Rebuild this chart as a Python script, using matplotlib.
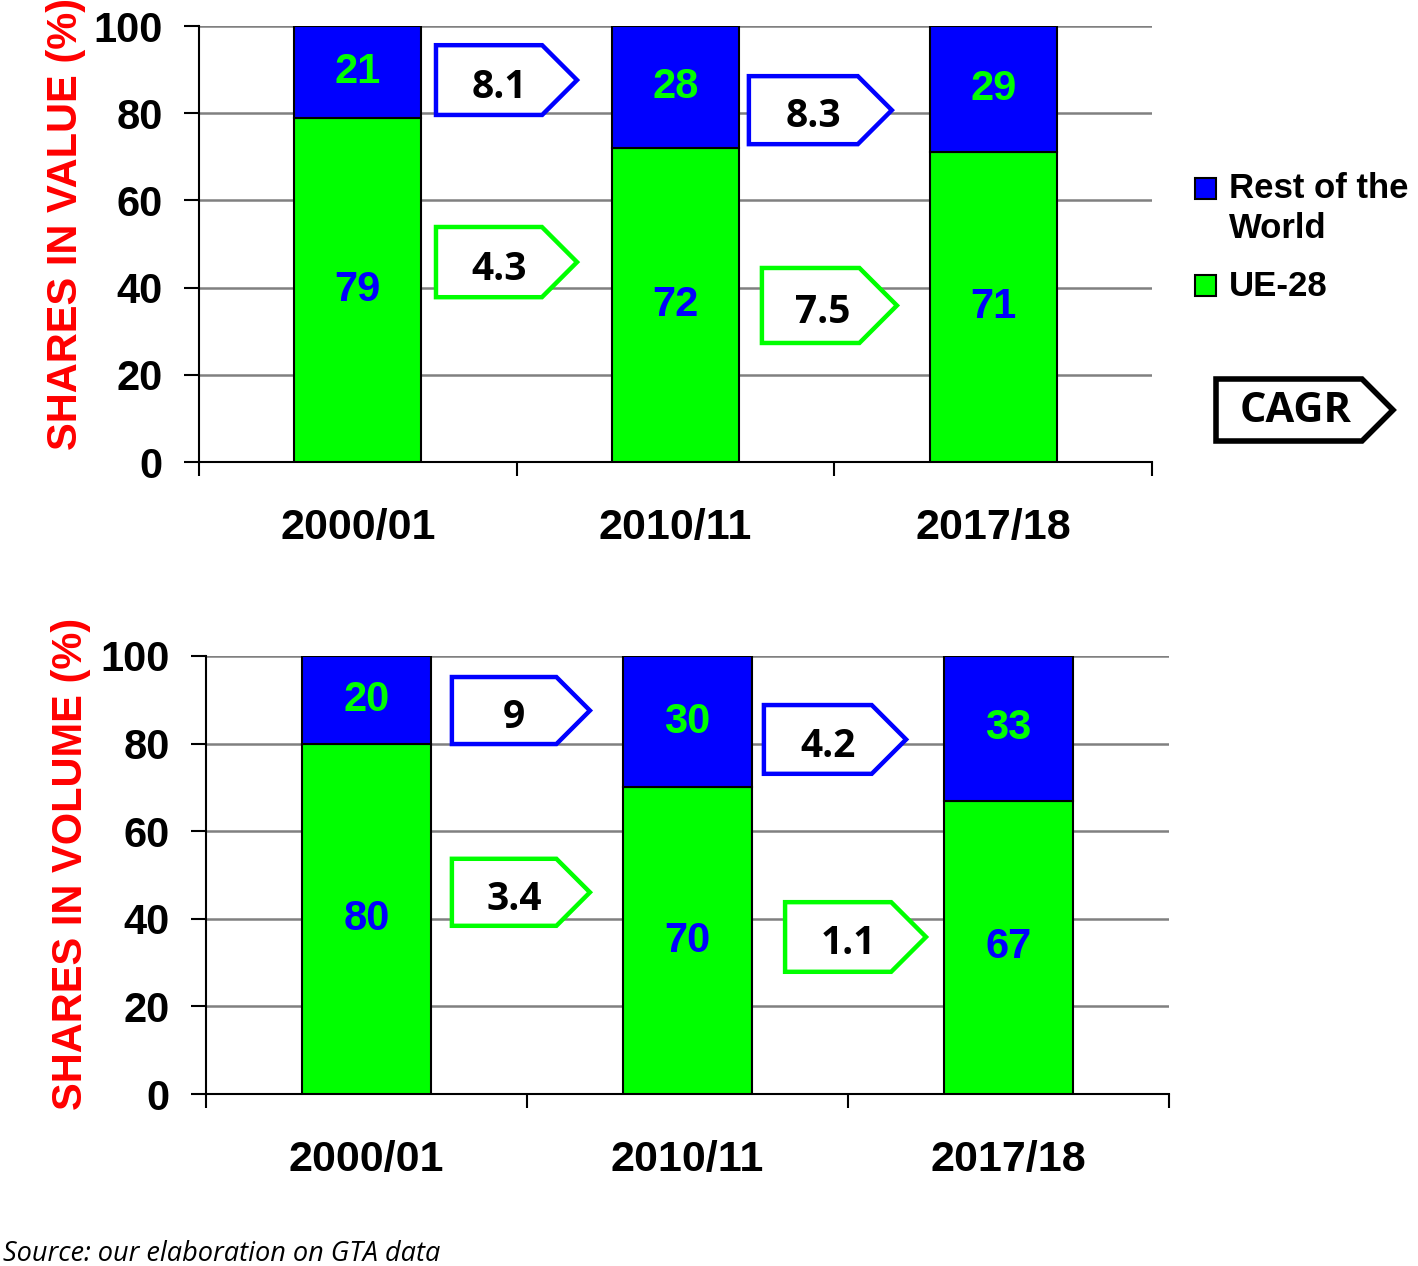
import numpy as np
import matplotlib
matplotlib.use("Agg")
import matplotlib.pyplot as plt
from matplotlib.patches import Polygon, Rectangle

# data
periods = ["2000/01", "2010/11", "2017/18"]
value_ue = [79, 72, 71]
value_row = [21, 28, 29]
volume_ue = [80, 70, 67]
volume_row = [20, 30, 33]
cagr_value_row = ["8.1", "8.3"]
cagr_value_ue = ["4.3", "7.5"]
cagr_volume_row = ["9", "4.2"]
cagr_volume_ue = ["3.4", "1.1"]

# tag boxes placement (x left, x right, y bottom, y top) in data units
tags_value = [(0.246, 0.690, 79.6, 95.6), (1.231, 1.681, 72.9, 88.5),
              (0.246, 0.690, 37.8, 53.9), (1.272, 1.697, 27.3, 44.5)]
tags_volume = [(0.266, 0.696, 79.9, 95.2), (1.238, 1.681, 73.1, 88.8),
               (0.266, 0.696, 38.4, 53.7), (1.304, 1.743, 27.9, 43.8)]

BLUE = "#0000ff"
GREEN = "#00ff00"
W, H = 1418, 1266

plt.rcParams["font.family"] = ["Liberation Sans", "DejaVu Sans"]
plt.rcParams["font.weight"] = "bold"

fig = plt.figure(figsize=(W / 100, H / 100), dpi=100)


def px(x, y):
    return x / W, 1 - y / H


def tag(ax, xl, xr, yb, yt, color, text, fs=28, lw=3.2, transform=None, drop=0.1):
    # pentagon pointing right, 45 degree tip
    if transform is None:
        bb = ax.get_position()
        ppx = bb.width * W / 3.0
        ppy = bb.height * H / 100.0
        tip = (yt - yb) / 2 * ppy / ppx
        trans = ax.transData
        target = ax
    else:
        tip = (yt - yb) / 2 * H / W
        trans = transform
        target = fig
    pts = [(xl, yb), (xr - tip, yb), (xr, (yb + yt) / 2), (xr - tip, yt), (xl, yt)]
    poly = Polygon(pts, closed=True, facecolor="white", edgecolor=color,
                   linewidth=lw, transform=trans, zorder=5, joinstyle="miter")
    if target is ax:
        ax.add_patch(poly)
    else:
        fig.patches.append(poly)
    target.text(xl + 0.45 * (xr - xl), (yb + yt) / 2 - drop * (yt - yb), text,
                transform=trans, ha="center", va="center", fontsize=fs,
                family="Open Sans", fontweight="bold", color="black", zorder=6)


def panel(rect, ue, row, ylabel, label_xy, tags, tag_texts):
    ax = fig.add_axes(rect)
    x = np.arange(len(periods))
    ax.bar(x, ue, width=0.4, color=GREEN, edgecolor="black", linewidth=1.5, zorder=3)
    ax.bar(x, row, bottom=ue, width=0.4, color=BLUE, edgecolor="black", linewidth=1.5, zorder=3)
    for i in range(len(x)):
        ax.text(x[i], ue[i] / 2, str(ue[i]), ha="center", va="center",
                fontsize=30, fontweight="bold", color=BLUE, zorder=4)
        ax.text(x[i], ue[i] + row[i] / 2, str(row[i]), ha="center", va="center",
                fontsize=30, fontweight="bold", color=GREEN, zorder=4)
    ax.set_xlim(-0.5, 2.5)
    ax.set_ylim(0, 100)
    ax.set_yticks(range(0, 101, 20))
    ax.yaxis.grid(True, color="#808080", linewidth=1.8)
    ax.set_axisbelow(True)
    ax.set_xticks([-0.5, 0.5, 1.5, 2.5])
    ax.set_xticklabels([])
    ax.set_xticks(x, minor=True)
    ax.set_xticklabels(periods, minor=True)
    ax.tick_params(axis="x", which="major", length=10, width=1.5, direction="out")
    ax.tick_params(axis="x", which="minor", length=0, pad=33, labelsize=31)
    ax.tick_params(axis="y", length=11, width=1.5, pad=15, labelsize=30)
    for s in ["top", "right"]:
        ax.spines[s].set_visible(False)
    for s in ["left", "bottom"]:
        ax.spines[s].set_linewidth(1.5)
    ax.set_ylabel(ylabel, color="red", fontsize=30, fontweight="bold")
    ax.yaxis.set_label_coords(*label_xy)
    colors = [BLUE, BLUE, GREEN, GREEN]
    for t, c, s in zip(tags, colors, tag_texts):
        tag(ax, *t, c, s)
    return ax


ax1 = panel([199 / W, 1 - 462 / H, 953 / W, 436 / H], value_ue, value_row,
            "SHARES IN VALUE (%)", (-0.119, 0.546), tags_value,
            cagr_value_row + cagr_value_ue)
ax2 = panel([206 / W, 1 - 1094 / H, 963 / W, 438 / H], volume_ue, volume_row,
            "SHARES IN VOLUME (%)", (-0.119, 0.525), tags_volume,
            cagr_volume_row + cagr_volume_ue)

# legend drawn by hand
for (y0, col, lab) in [(178, BLUE, "Rest of the"), (275, GREEN, "UE-28")]:
    x0f, y0f = px(1195, y0 + 21)
    fig.patches.append(Rectangle((x0f, y0f), 21 / W, 21 / H, facecolor=col,
                                 edgecolor="black", linewidth=1.5,
                                 transform=fig.transFigure))
    fig.text(*px(1229, y0 + 11), lab, ha="left", va="center", fontsize=25,
             fontweight="bold")
fig.text(*px(1229, 229), "World", ha="left", va="center", fontsize=25, fontweight="bold")

# CAGR key
xl, yt = px(1216, 379)
xr, yb = px(1393, 441)
tag(None, xl, xr, yb, yt, "black", "CAGR", fs=30, lw=4, transform=fig.transFigure,
    drop=0.02)

fig.text(*px(3, 1254), "Source: our elaboration on GTA data", ha="left", va="center",
         fontsize=19.5, family="Open Sans", style="italic", fontweight="normal")

fig.savefig("out.png", dpi=100)
